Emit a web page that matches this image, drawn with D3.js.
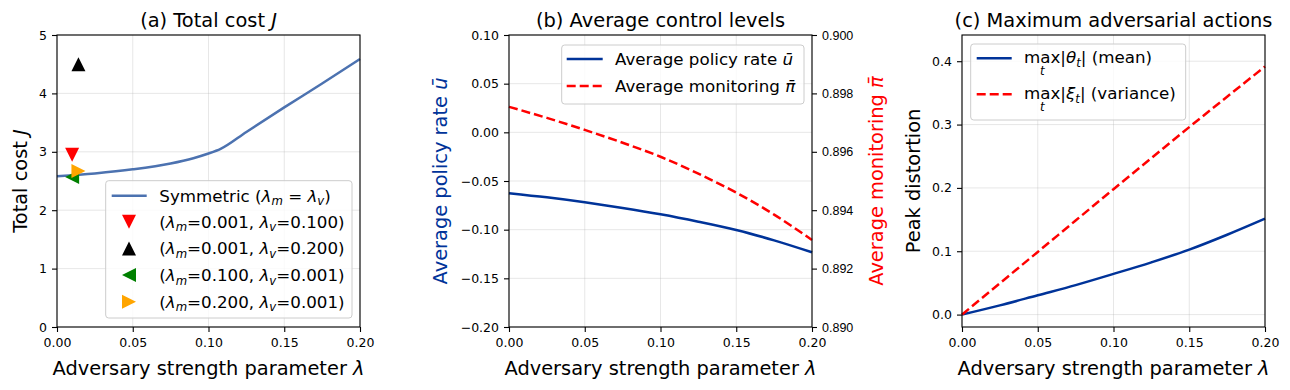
<!DOCTYPE html>
<html>
<head>
<meta charset="utf-8">
<script src="https://cdn.jsdelivr.net/npm/d3@7"></script>
<style>
body { margin: 0; background: #fff; }
svg { font-family: "DejaVu Sans", sans-serif; }
.tick text { font-size: 12.5px; fill: #000; }
.tick line { stroke: #000; stroke-width: 1.1; }
.grid line { stroke: #b0b0b0; stroke-opacity: 0.3; stroke-width: 1; }
</style>
</head>
<body>
<svg id="fig" width="1290" height="390"></svg>
<script>
// ---- data ----
// (a) total cost, symmetric case
var costLam = [0, 0.025, 0.05, 0.075, 0.09, 0.1, 0.108, 0.125, 0.15, 0.175, 0.2];
var costSym = [2.58, 2.63, 2.70, 2.80, 2.89, 2.97, 3.05, 3.34, 3.76, 4.17, 4.59];
// asymmetric runs, x = sqrt(lam_m * lam_v)
var asymLabels = ["0.001|0.100", "0.001|0.200", "0.100|0.001", "0.200|0.001"];
var asymX = [0.01, 0.01414, 0.01, 0.01414];
var asymCost = [2.95, 4.50, 2.57, 2.67];
var asymShape = ["v", "^", "<", ">"];
var asymColor = ["red", "black", "green", "orange"];

// (b) and (c) share one lambda grid
var lam = [0, 0.025, 0.05, 0.075, 0.1, 0.125, 0.15, 0.175, 0.2];
var avgRate = [-0.0625, -0.0668, -0.0719, -0.0777, -0.0842, -0.0918, -0.1003, -0.111, -0.1233];
var avgMon = [0.89754, 0.89716, 0.89675, 0.89631, 0.89583, 0.89525, 0.89460, 0.89385, 0.89298];
var maxTheta = [0, 0.0145, 0.0305, 0.0465, 0.0642, 0.0825, 0.1025, 0.126, 0.1514];
var maxXi = [0, 0.0495, 0.0989, 0.1485, 0.198, 0.247, 0.296, 0.344, 0.3916];

var xTicks = [0, 0.05, 0.1, 0.15, 0.2];
var costTicks = [0, 1, 2, 3, 4, 5];
var rateTicks = [-0.2, -0.15, -0.1, -0.05, 0, 0.05, 0.1];
var monTicks = [0.890, 0.892, 0.894, 0.896, 0.898, 0.900];
var peakTicks = [0, 0.1, 0.2, 0.3, 0.4];

// ---- layout ----
var svg = d3.select("#fig");
var top0 = 35, bot0 = 327;
var fs = { tick: 12.5, label: 19.4, legend: 16.7 };
var darkBlue = "#003399";

function rich(sel, parts, size) {
    // parts: [text, kind]  kind: "" normal, "i" italic, "s" italic subscript
    var prevSub = false;
    parts.forEach(function(p) {
        var ts = sel.append("tspan").text(p[0]);
        if (p[1] == "i" || p[1] == "s") ts.attr("font-style", "italic");
        if (p[1] == "s") {
            ts.attr("font-size", size * 0.7).attr("dy", size * 0.22);
            prevSub = true;
        } else if (prevSub) {
            ts.attr("dy", -size * 0.22);
            prevSub = false;
        }
    });
    return sel;
}

function panel(left, right, xdom, ydom, yticks, yfmt) {
    var g = svg.append("g");
    var x = d3.scaleLinear().domain(xdom).range([left, right]);
    var y = d3.scaleLinear().domain(ydom).range([bot0, top0]);
    var grid = g.append("g").attr("class", "grid");
    grid.selectAll(".gx").data(xTicks).enter().append("line")
        .attr("x1", d => x(d)).attr("x2", d => x(d)).attr("y1", top0).attr("y2", bot0);
    grid.selectAll(".gy").data(yticks).enter().append("line")
        .attr("x1", left).attr("x2", right).attr("y1", d => y(d)).attr("y2", d => y(d));
    var ax = g.append("g").attr("transform", "translate(0," + bot0 + ")")
        .call(d3.axisBottom(x).tickValues(xTicks).tickFormat(d3.format(".2f")).tickSize(5).tickPadding(6.5));
    var ay = g.append("g").attr("transform", "translate(" + left + ",0)")
        .call(d3.axisLeft(y).tickValues(yticks).tickFormat(yfmt).tickSize(5).tickPadding(5));
    ax.select(".domain").remove();
    ay.select(".domain").remove();
    g.selectAll(".tick text").attr("font-family", "DejaVu Sans");
    var plot = g.append("g");
    g.append("rect").attr("x", left).attr("y", top0)
        .attr("width", right - left).attr("height", bot0 - top0)
        .attr("fill", "none").attr("stroke", "#000").attr("stroke-width", 1.1);
    // x label
    rich(g.append("text").attr("x", (left + right) / 2).attr("y", 374.5)
        .attr("text-anchor", "middle").attr("font-size", fs.label),
        [["Adversary strength parameter ", ""], ["λ", "i"]], fs.label);
    return { g: g, plot: plot, x: x, y: y, left: left, right: right };
}

function title(p, parts) {
    rich(p.g.append("text").attr("x", (p.left + p.right) / 2).attr("y", 27)
        .attr("text-anchor", "middle").attr("font-size", fs.label), parts, fs.label);
}

function ylabel(p, bx, parts, color) {
    rich(p.g.append("text").attr("transform", "translate(" + bx + "," + (top0 + bot0) / 2 + ") rotate(-90)")
        .attr("text-anchor", "middle").attr("font-size", fs.label).attr("fill", color), parts, fs.label);
}

function legendBox(g, x0, y0, w, h) {
    g.append("rect").attr("x", x0).attr("y", y0).attr("width", w).attr("height", h)
        .attr("rx", 3).attr("fill", "#fff").attr("fill-opacity", 0.8)
        .attr("stroke", "#cccccc").attr("stroke-width", 1);
}

function triPath(shape, s) {
    var pts = { "^": [[0, -s], [-s, s], [s, s]], "v": [[0, s], [-s, -s], [s, -s]],
                "<": [[-s, 0], [s, -s], [s, s]], ">": [[s, 0], [-s, -s], [-s, s]] }[shape];
    return "M" + pts.map(p => p.join(",")).join("L") + "Z";
}

// ---- (a) total cost ----
var pa = panel(57, 360, [0, 0.2], [0, 5], costTicks, d3.format("d"));
title(pa, [["(a) Total cost ", ""], ["J", "i"]]);
ylabel(pa, 26.5, [["Total cost ", ""], ["J", "i"]], "#000");
var lineA = d3.line().x((d, i) => pa.x(costLam[i])).y(d => pa.y(d)).curve(d3.curveMonotoneX);
pa.plot.append("path").datum(costSym).attr("d", lineA)
    .attr("fill", "none").attr("stroke", "#4c72b0").attr("stroke-width", 2.5);
pa.plot.selectAll(".mk").data(asymCost).enter().append("path")
    .attr("transform", (d, i) => "translate(" + pa.x(asymX[i]) + "," + pa.y(d) + ")")
    .attr("d", (d, i) => triPath(asymShape[i], 7))
    .attr("fill", (d, i) => asymColor[i]);

var legA = pa.g.append("g");
legendBox(legA, 105.7, 180.7, 246.3, 137.3);
legA.append("line").attr("x1", 111.7).attr("x2", 146.7).attr("y1", 195.7).attr("y2", 195.7)
    .attr("stroke", "#4c72b0").attr("stroke-width", 2.5);
rich(legA.append("text").attr("x", 159.3).attr("y", 195.7 + 6).attr("font-size", fs.legend),
    [["Symmetric (", ""], ["λ", "i"], ["m", "s"], [" = ", ""], ["λ", "i"], ["v", "s"], [")", ""]], fs.legend);
asymLabels.forEach(function(lb, i) {
    var yy = 221.7 + i * 26.7;
    var v = lb.split("|");
    legA.append("path").attr("transform", "translate(129," + yy + ")")
        .attr("d", triPath(asymShape[i], 7)).attr("fill", asymColor[i]);
    rich(legA.append("text").attr("x", 159.3).attr("y", yy + 6).attr("font-size", fs.legend),
        [["(", ""], ["λ", "i"], ["m", "s"], ["=" + v[0] + ", ", ""], ["λ", "i"], ["v", "s"], ["=" + v[1] + ")", ""]], fs.legend);
});

// ---- (b) average control levels ----
var pb = panel(509, 812, [0, 0.2], [-0.2, 0.1], rateTicks, d3.format(".2f"));
title(pb, [["(b) Average control levels", ""]]);
ylabel(pb, 446.5, [["Average policy rate ", ""], ["u\u0304", "i"]], darkBlue);
ylabel(pb, 883, [["Average monitoring ", ""], ["\u03c0\u0304", "i"]], "red");
var yMon = d3.scaleLinear().domain([0.890, 0.900]).range([bot0, top0]);
var ayR = pb.g.append("g").attr("transform", "translate(812,0)")
    .call(d3.axisRight(yMon).tickValues(monTicks).tickFormat(d3.format(".3f")).tickSize(5).tickPadding(5));
ayR.select(".domain").remove();
pb.plot.append("path").datum(avgRate)
    .attr("d", d3.line().x((d, i) => pb.x(lam[i])).y(d => pb.y(d)).curve(d3.curveMonotoneX))
    .attr("fill", "none").attr("stroke", darkBlue).attr("stroke-width", 2.5);
pb.plot.append("path").datum(avgMon)
    .attr("d", d3.line().x((d, i) => pb.x(lam[i])).y(d => yMon(d)).curve(d3.curveMonotoneX))
    .attr("fill", "none").attr("stroke", "red").attr("stroke-width", 2.5).attr("stroke-dasharray", "9,4");
var legB = pb.g.append("g");
legendBox(legB, 561.7, 45, 242.3, 59);
legB.append("line").attr("x1", 566.7).attr("x2", 602.7).attr("y1", 59).attr("y2", 59)
    .attr("stroke", darkBlue).attr("stroke-width", 2.5);
legB.append("line").attr("x1", 566.7).attr("x2", 602.7).attr("y1", 86).attr("y2", 86)
    .attr("stroke", "red").attr("stroke-width", 2.5).attr("stroke-dasharray", "9,4");
rich(legB.append("text").attr("x", 615).attr("y", 65).attr("font-size", fs.legend),
    [["Average policy rate ", ""], ["u\u0304", "i"]], fs.legend);
rich(legB.append("text").attr("x", 615).attr("y", 92).attr("font-size", fs.legend),
    [["Average monitoring ", ""], ["\u03c0\u0304", "i"]], fs.legend);

// ---- (c) maximum adversarial actions ----
var pc = panel(962, 1265, [0, 0.2], [-0.0196, 0.4414], peakTicks, d3.format(".1f"));
title(pc, [["(c) Maximum adversarial actions", ""]]);
ylabel(pc, 920, [["Peak distortion", ""]], "#000");
pc.plot.append("path").datum(maxTheta)
    .attr("d", d3.line().x((d, i) => pc.x(lam[i])).y(d => pc.y(d)).curve(d3.curveMonotoneX))
    .attr("fill", "none").attr("stroke", darkBlue).attr("stroke-width", 2.5);
pc.plot.append("path").datum(maxXi)
    .attr("d", d3.line().x((d, i) => pc.x(lam[i])).y(d => pc.y(d)).curve(d3.curveMonotoneX))
    .attr("fill", "none").attr("stroke", "red").attr("stroke-width", 2.5).attr("stroke-dasharray", "9,4");
var legC = pc.g.append("g");
legendBox(legC, 970.7, 44, 215, 76);
var legCItems = [
    { y: 58.3, color: darkBlue, dash: null, sym: "\u03b8", tail: "| (mean)" },
    { y: 94.3, color: "red", dash: "9,4", sym: "\u03be", tail: "| (variance)" }
];
legCItems.forEach(function(it) {
    legC.append("line").attr("x1", 976.7).attr("x2", 1011.7).attr("y1", it.y).attr("y2", it.y)
        .attr("stroke", it.color).attr("stroke-width", 2.5).attr("stroke-dasharray", it.dash);
    var t = legC.append("text").attr("x", 1024).attr("y", it.y + 5).attr("font-size", fs.legend);
    var mx = t.append("tspan").text("max");
    rich(t, [["|", ""], [it.sym, "i"], ["t", "s"], [it.tail, ""]], fs.legend);
    var w = mx.node().getComputedTextLength();
    legC.append("text").attr("x", 1024 + w / 2).attr("y", it.y + 17)
        .attr("text-anchor", "middle").attr("font-size", fs.legend * 0.7)
        .attr("font-style", "italic").text("t");
});
</script>
</body>
</html>
